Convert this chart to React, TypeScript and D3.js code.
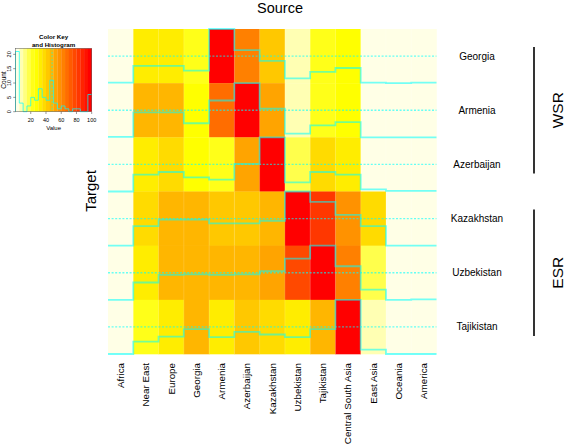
import React from "react";
import * as d3 from "d3";

const columns = ["Africa", "Near East", "Europe", "Georgia", "Armenia", "Azerbaijan", "Kazakhstan", "Uzbekistan", "Tajikistan", "Central South Asia", "East Asia", "Oceania", "America"];
const rows = ["Georgia", "Armenia", "Azerbaijan", "Kazakhstan", "Uzbekistan", "Tajikistan"];

const georgiaValues = [1, 32, 32, 23, 100, 61, 41, 9, 21, 28, 1, 0, 1];
const armeniaValues = [1, 46, 46, 26, 68, 100, 53, 7, 22, 28, 0, 0, 0];
const azerbaijanValues = [0, 31, 36, 26, 22, 51, 100, 17, 36, 31, 4, 1, 1];
const kazakhstanValues = [0, 36, 48, 48, 41, 41, 46, 100, 81, 57, 36, 0, 0];
const uzbekistanValues = [0, 32, 46, 47, 46, 47, 53, 76, 100, 62, 19, 0, 1];
const tajikistanValues = [0, 23, 32, 46, 31, 41, 36, 31, 46, 100, 8, 0, 0];
const matrix = [georgiaValues, armeniaValues, azerbaijanValues, kazakhstanValues, uzbekistanValues, tajikistanValues];

const histCounts = [21, 3, 0, 2, 5, 4, 8, 5, 4, 11, 3, 1, 2, 1, 0, 1, 1, 0, 0, 6];
const keyXTicks = [20, 40, 60, 80, 100];
const keyYTicks = [0, 5, 10, 15, 20];
const keyLineValue = 48;
const groups = [
  { label: "WSR", from: "Georgia", to: "Azerbaijan" },
  { label: "ESR", from: "Kazakhstan", to: "Tajikistan" },
];

const FONT = "'Liberation Sans', Arial, Helvetica, sans-serif";
const TRACE = "#00FFFF";

function heatColor(v: number): string {
  const bin = v <= 0 ? 0 : Math.min(19, Math.ceil(v / 5) - 1);
  if (bin < 5) {
    const s = 0.1 + 0.2 * bin;
    const b = Math.round(255 * (1 - s));
    return `rgb(255,255,${b})`;
  }
  const k = bin - 5;
  const hue = 60 * (1 - k / 14);
  return `rgb(255,${Math.round((255 * hue) / 60)},0)`;
}

export default function App() {
  const W = 566, H = 446;
  const x = d3.scaleBand<string>().domain(columns).range([108, 436.5]).padding(0);
  const y = d3.scaleBand<string>().domain(rows).range([29, 354]).padding(0);
  const bw = x.bandwidth();
  const bh = y.bandwidth();

  const traceLine = d3.line<[number, number]>().x((d) => d[0]).y((d) => d[1]).curve(d3.curveStepAfter);

  const kx = d3.scaleLinear().domain([0, 100]).range([15.5, 91.7]);
  const ky = d3.scaleLinear().domain([0, 21 / 0.95]).range([111.7, 48.3]);
  const binEdges = d3.range(0, 101, 5);
  const histPts: [number, number][] = [[kx(0), ky(0)]];
  histCounts.forEach((c, i) => histPts.push([kx(binEdges[i]), ky(c)]));
  histPts.push([kx(100), ky(histCounts[histCounts.length - 1])]);

  return (
    <svg width={W} height={H} style={{ position: "absolute", left: 0, top: 0, background: "#fff" }} fontFamily={FONT}>
      <rect x={0} y={0} width={W} height={H} fill="#fff" />
      {rows.map((r, ri) =>
        columns.map((c, ci) => (
          <rect key={r + c} x={x(c)} y={y(r)} width={bw + 0.3} height={bh + 0.3} fill={heatColor(matrix[ri][ci])} />
        ))
      )}
      {columns.slice(1).map((c) => (
        <line key={"sep" + c} x1={x(c)} x2={x(c)} y1={29} y2={354} stroke="#fff" strokeOpacity={0.25} strokeWidth={0.6} />
      ))}
      {rows.map((r) => (
        <line key={"h" + r} x1={108} x2={436.5} y1={(y(r) as number) + bh / 2} y2={(y(r) as number) + bh / 2} stroke={TRACE} strokeOpacity={0.6} strokeWidth={1.3} strokeDasharray="2,1.6" />
      ))}
      {rows.map((r, ri) => {
        const base = (y(r) as number) + bh;
        const pts: [number, number][] = columns.map((c, ci) => [x(c) as number, base - (matrix[ri][ci] / 100) * bh]);
        pts.push([436.5, base - (matrix[ri][columns.length - 1] / 100) * bh]);
        return <path key={"t" + r} d={traceLine(pts) || ""} fill="none" stroke={TRACE} strokeOpacity={0.55} strokeWidth={1.8} />;
      })}
      <text x={280} y={13} fontSize={14.5} textAnchor="middle" fill="#000">Source</text>
      <text transform="translate(96,191) rotate(-90)" fontSize={15} textAnchor="middle" fill="#000">Target</text>
      {rows.map((r) => (
        <text key={"rl" + r} x={477} y={(y(r) as number) + bh / 2} dy="0.35em" fontSize={10} textAnchor="middle" fill="#000">{r}</text>
      ))}
      {columns.map((c) => (
        <text key={"cl" + c} transform={`translate(${(x(c) as number) + bw / 2},363) rotate(-90)`} dy="0.35em" fontSize={9.8} textAnchor="end" fill="#000">{c}</text>
      ))}
      {groups.map((g) => {
        const y1 = (y(g.from) as number) + 18;
        const y2 = (y(g.to) as number) + bh - 18;
        return (
          <g key={g.label}>
            <line x1={534} x2={534} y1={y1} y2={y2} stroke="#000" strokeWidth={1.6} />
            <text transform={`translate(563,${(y1 + y2) / 2}) rotate(-90)`} fontSize={15.5} textAnchor="middle" fill="#000">{g.label}</text>
          </g>
        );
      })}
      <text x={53.6} y={39} fontSize={6.2} fontWeight="bold" textAnchor="middle">Color Key</text>
      <text x={53.6} y={46.5} fontSize={6.2} fontWeight="bold" textAnchor="middle">and Histogram</text>
      {histCounts.map((_, i) => (
        <rect key={"kb" + i} x={kx(binEdges[i])} y={48.3} width={kx(5) - kx(0) + 0.2} height={111.7 - 48.3} fill={heatColor(binEdges[i] + 2.5)} />
      ))}
      <line x1={kx(keyLineValue)} x2={kx(keyLineValue)} y1={48.3} y2={111.7} stroke={TRACE} strokeOpacity={0.6} strokeWidth={1} strokeDasharray="2,1.5" />
      <path d={d3.line<[number, number]>().curve(d3.curveStepAfter)(histPts) || ""} fill="none" stroke={TRACE} strokeOpacity={0.7} strokeWidth={1} />
      <rect x={15.5} y={48.3} width={91.7 - 15.5} height={111.7 - 48.3} fill="none" stroke="#555" strokeWidth={0.5} />
      {keyXTicks.map((t) => (
        <g key={"kxt" + t}>
          <line x1={kx(t)} x2={kx(t)} y1={111.7} y2={114} stroke="#333" strokeWidth={0.5} />
          <text x={kx(t)} y={121.5} fontSize={5.5} textAnchor="middle">{t}</text>
        </g>
      ))}
      <text x={53.6} y={130} fontSize={6} textAnchor="middle">Value</text>
      {keyYTicks.map((t) => (
        <g key={"kyt" + t}>
          <line x1={15.5} x2={13.2} y1={ky(t)} y2={ky(t)} stroke="#333" strokeWidth={0.5} />
          <text transform={`translate(11,${ky(t)}) rotate(-90)`} fontSize={5.5} textAnchor="middle">{t}</text>
        </g>
      ))}
      <text transform="translate(5.5,80) rotate(-90)" fontSize={6.5} textAnchor="middle">Count</text>
    </svg>
  );
}
